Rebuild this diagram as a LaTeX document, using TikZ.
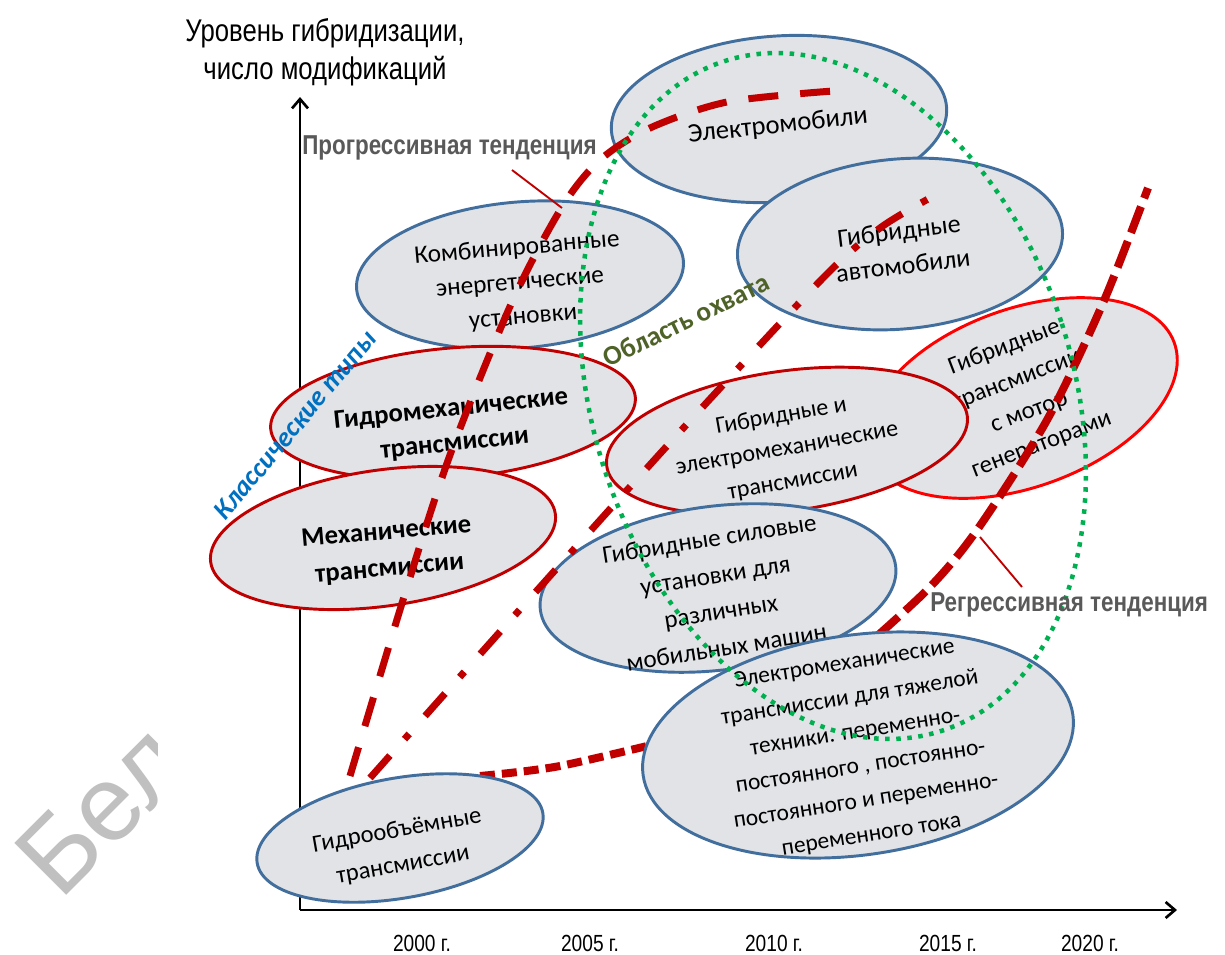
\documentclass[tikz,border=0pt]{standalone}
\usepackage{fontspec}
\setmainfont{Carlito}
\newfontfamily\nar[FakeStretch=0.82]{Liberation Sans}
\newfontfamily\wmfont{Liberation Sans}
\usetikzlibrary{shapes.geometric,arrows.meta}
\definecolor{dred}{RGB}{192,0,0}
\definecolor{bred}{RGB}{255,0,0}
\definecolor{eblue}{RGB}{65,110,156}
\definecolor{marble}{RGB}{225,227,230}
\definecolor{ogreen}{RGB}{0,176,80}
\definecolor{olive}{RGB}{79,98,40}
\definecolor{cblue}{RGB}{0,112,192}
\definecolor{lgrey}{RGB}{89,89,89}
\definecolor{wmgrey}{RGB}{192,192,192}
\tikzset{
  ellbase/.style={ellipse, line width=2.2pt, fill=marble, inner sep=0pt},
  ellb/.style={ellbase, draw=eblue},
  ellr/.style={ellbase, draw=dred},
  ellbr/.style={ellbase, draw=bred},
  sz/.style 2 args={minimum width=#1*1.5pt, minimum height=#2*1.5pt},
  txt/.style={align=center, inner sep=0pt, text=black},
  fs/.style 2 args={font=\fontsize{#1pt}{#2pt}\selectfont},
  fsb/.style 2 args={font=\bfseries\fontsize{#1pt}{#2pt}\selectfont},
  axisline/.style={line width=2.2pt, -{Straight Barb[length=7pt,width=12pt,line width=2pt]}},
  progline/.style={draw=dred, line width=5.25pt, dash pattern=on 22.5pt off 16.5pt},
  dashdotline/.style={draw=dred, line width=5.25pt, dash pattern=on 22.5pt off 16.5pt on 5.25pt off 18pt},
  regline/.style={draw=dred, line width=6pt, dash pattern=on 21pt off 6.75pt},
  reglow/.style={draw=dred, line width=6pt, dash pattern=on 11.25pt off 5.25pt},
  leader/.style={draw=dred, line width=1.4pt},
  trend/.style={font=\nar\bfseries\fontsize{20.5pt}{24pt}\selectfont, text=lgrey, inner sep=0pt},
  yearlab/.style={font=\nar\fontsize{17.5pt}{20pt}\selectfont, inner sep=0pt},
  zone/.style={ellipse, draw=ogreen, line width=3.4pt, dash pattern=on 3.4pt off 4.9pt, inner sep=0pt}
}
\begin{document}
\begin{tikzpicture}[x=0.75pt,y=-0.75pt]
\useasboundingbox (0,0) rectangle (1225,954);
\fill[white] (0,0) rectangle (1225,954);
% watermark
\begin{scope}
\clip (0,0) rectangle (157,954);
\node[font=\wmfont\fontsize{80pt}{90pt}\selectfont, text=wmgrey, anchor=base west, inner sep=0pt, rotate=45] (wm) at (60,902) {Бел};
\end{scope}
% axes
\coordinate (O) at (300,910);
\coordinate (YT) at (300,97);
\coordinate (XT) at (1177,910);
\draw[axisline] (O) -- (YT);
\draw[axisline] (O) -- (XT);
% ellipses (back)
\node[ellb, sz={164}{73}, rotate=5] (e2) at (520,275) {};
\node[txt, fs={19}{26}, rotate=5] (t2) at (520,283) {Комбинированные\\энергетические\\установки};
\node[ellb, sz={168}{83}, rotate=4] (e1) at (779,119) {};
\node[txt, fs={20}{26}, rotate=6] (t1) at (778,126) {Электромобили};
\node[ellb, sz={163}{85}, rotate=5] (e3) at (900,244) {};
\node[txt, fs={19.5}{26}, rotate=7] (t3) at (901,248) {Гибридные\\автомобили};
\node[ellr, sz={183}{65}, rotate=5] (e4) at (453,413) {};
\node[txt, fsb={20}{26}, rotate=6] (t4) at (453,427) {Гидромеханические\\трансмиссии};
\node[ellr, sz={174}{68}, rotate=8] (e5) at (383,538) {};
\node[txt, fsb={20}{27.5}, rotate=5] (t5) at (388,551) {Механические\\трансмиссии};
\node[ellbr, sz={162}{89}, rotate=20] (e7) at (1022,398) {};
\node[txt, fs={18.5}{26}, rotate=21] (t7) at (1023,396) {Гибридные\\трансмиссии\\с мотор\\генераторами};
\node[ellr, sz={182}{70}, rotate=8] (e6) at (787,441) {};
\node[txt, fs={18}{25}, rotate=10] (t6) at (787,449) {Гибридные и\\электромеханические\\трансмиссии};
\node[ellb, sz={179}{82}, rotate=7] (e8) at (718,588) {};
\node[txt, fs={18.8}{27.5}, rotate=9] (t8) at (718,593) {Гибридные силовые\\установки для\\различных\\мобильных машин};
% regressive trend
\coordinate (r1) at (850,660);
\coordinate (r2) at (927,590);
\coordinate (r3) at (977,530);
\coordinate (r4) at (1047,420);
\coordinate (r5) at (1103,303);
\coordinate (r6) at (1148,188);
\draw[regline] plot[smooth, tension=0.5] coordinates {(r1) (r2) (r3) (r4) (r5) (r6)};
\coordinate (q1) at (480,776);
\coordinate (q2) at (560,766);
\coordinate (q3) at (680,738);
\draw[reglow] plot[smooth, tension=0.5] coordinates {(q1) (q2) (q3)};
% front ellipses
\node[ellb, sz={217}{110}, rotate=8] (e9) at (858,745) {};
\node[txt, fs={17.6}{26}, rotate=9] (t9) at (858,750) {Электромеханические\\трансмиссии для тяжелой\\техники. переменно-\\постоянного , постоянно-\\постоянного и переменно-\\переменного тока};
\node[ellb, sz={145}{60}, rotate=10] (e10) at (400,838) {};
\node[txt, fs={18.4}{26}, rotate=10] (t10) at (400,848) {Гидрообъёмные\\трансмиссии};
% progressive trend
\coordinate (p1) at (350,776);
\coordinate (p2) at (403,600);
\coordinate (p3) at (450,455);
\coordinate (p4) at (512,302);
\coordinate (p5) at (562,207);
\coordinate (p6) at (600,160);
\coordinate (p7) at (650,128);
\coordinate (p8) at (727,102);
\coordinate (p9) at (833,91);
\draw[progline] plot[smooth, tension=0.5] coordinates {(p1) (p2) (p3) (p4) (p5) (p6) (p7) (p8) (p9)};
% dash-dot trend
\coordinate (d1) at (370,778);
\coordinate (d2) at (515,615);
\coordinate (d3) at (677,435);
\coordinate (d4) at (823,278);
\coordinate (d5) at (880,228);
\coordinate (d6) at (930,198);
\draw[dashdotline] plot[smooth, tension=0.5] coordinates {(d1) (d2) (d3) (d4) (d5) (d6)};
% zone
\node[zone, minimum width=360pt, minimum height=528pt, rotate=18] (zone) at (833,396) {};
% labels
\node[font=\bfseries\fontsize{20.5pt}{22pt}\selectfont, text=olive, rotate=26, inner sep=0pt] (oa) at (686,320) {Область охвата};
\node[font=\bfseries\itshape\fontsize{20.5pt}{22pt}\selectfont, text=cblue, rotate=50, inner sep=0pt] (kt) at (295,425) {Классические типы};
\node[trend, anchor=west] (prog) at (302,148) {Прогрессивная тенденция};
\node[trend, anchor=west] (regr) at (930,605) {Регрессивная тенденция};
\coordinate (lp1) at (512,170);
\coordinate (lp2) at (562,208);
\draw[leader] (lp1) -- (lp2);
\coordinate (lr1) at (980,537);
\coordinate (lr2) at (1022,587);
\draw[leader] (lr1) -- (lr2);
\node[font=\nar\fontsize{23.5pt}{28.5pt}\selectfont, align=center, inner sep=0pt] (ylab) at (325,52) {Уровень гибридизации,\\число модификаций};
\node[yearlab] (y2000) at (422,943) {2000 г.};
\node[yearlab] (y2005) at (590,943) {2005 г.};
\node[yearlab] (y2010) at (774,943) {2010 г.};
\node[yearlab] (y2015) at (948,943) {2015 г.};
\node[yearlab] (y2020) at (1090,943) {2020 г.};
\end{tikzpicture}
\end{document}
